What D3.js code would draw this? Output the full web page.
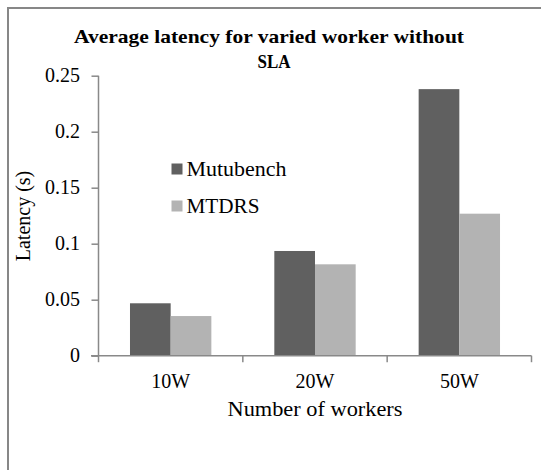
<!DOCTYPE html>
<html><head><meta charset="utf-8">
<script src="https://cdn.jsdelivr.net/npm/d3@7"></script>
<style>html,body{margin:0;padding:0;background:#fff;overflow:hidden}</style>
</head><body><svg id="c" width="541" height="470"></svg>
<script>
const categories = ["10W", "20W", "50W"];
const seriesNames = ["Mutubench", "MTDRS"];
const mutubench = [0.0468, 0.0935, 0.238];
const mtdrs = [0.0354, 0.0816, 0.1268];
const yTicks = [0, 0.05, 0.1, 0.15, 0.2, 0.25];
const yTickLabels = ["0", "0.05", "0.1", "0.15", "0.2", "0.25"];
const colors = ["#606060", "#b3b3b3"];
const axisColor = "#898989";
const FONT = "Times New Roman, Liberation Serif, serif";

const svg = d3.select("#c");
svg.append("rect").attr("width", 541).attr("height", 470).attr("fill", "#fff");
svg.append("rect").attr("x", 8).attr("y", 8).attr("width", 600).attr("height", 600)
  .attr("fill", "none").attr("stroke", "#878787").attr("stroke-width", 2);

const x0 = d3.scaleBand().domain(categories).range([98.5, 531.5]).padding(0);
const x1 = d3.scaleBand().domain(seriesNames).range([0, x0.bandwidth()]).paddingInner(0).paddingOuter(0.774);
const y = d3.scaleLinear().domain([0, 0.25]).range([355.7, 75.7]);

function txt(x, yy, s, opts = {}) {
  const t = svg.append("text")
    .attr("x", x).attr("y", yy)
    .attr("text-anchor", opts.anchor || "middle")
    .attr("font-family", FONT)
    .attr("font-size", opts.size || 20)
    .attr("font-weight", opts.bold ? "bold" : "normal")
    .attr("fill", "#000")
    .text(s);
  if (opts.len) t.attr("textLength", opts.len).attr("lengthAdjust", "spacingAndGlyphs");
  return t;
}

// bars
const data = [mutubench, mtdrs];
seriesNames.forEach((s, si) => {
  svg.append("g").selectAll("rect").data(categories).join("rect")
    .attr("x", c => x0(c) + x1(s))
    .attr("y", (c, i) => y(data[si][i]))
    .attr("width", x1.bandwidth())
    .attr("height", (c, i) => y(0) - y(data[si][i]))
    .attr("fill", colors[si]);
});

// y axis
const yAxis = svg.append("g").attr("transform", "translate(98.5,0)")
  .call(d3.axisLeft(y).tickValues(yTicks).tickSize(7).tickPadding(0)
    .tickFormat((d, i) => yTickLabels[i]));
yAxis.select(".domain").attr("stroke", axisColor).attr("stroke-width", 1.5).attr("d", `M0,${y(0.25)}V${y(0)}`);
yAxis.selectAll(".tick line").attr("stroke", axisColor).attr("stroke-width", 1.5);
yAxis.selectAll(".tick text").remove();
yTicks.forEach((v, i) => txt(80, y(v) + 6.5, yTickLabels[i], { anchor: "end" }));

// x axis
const xAxis = svg.append("g").attr("transform", `translate(0,${y(0)})`)
  .call(d3.axisBottom(x0).tickSize(0).tickFormat(""));
xAxis.select(".domain").attr("stroke", axisColor).attr("stroke-width", 1.5)
  .attr("d", `M91,0H${x0.range()[1]}`);
const xt = [...categories.map(c => x0(c)), x0.range()[1]];
xAxis.selectAll(".xt").data(xt).join("line").attr("class", "xt")
  .attr("x1", d => d).attr("x2", d => d).attr("y1", 0).attr("y2", 6.5)
  .attr("stroke", axisColor).attr("stroke-width", 1.5);
categories.forEach(c => txt(x0(c) + x0.bandwidth() / 2, 388, c));

// titles
txt(269, 43, "Average latency for varied worker without", { bold: true, size: 19, len: 390 });
txt(274, 68, "SLA", { bold: true, size: 19, len: 33 });
txt(315, 416, "Number of workers", { len: 175 });
svg.append("text")
  .attr("transform", "translate(30,216) rotate(-90)")
  .attr("text-anchor", "middle").attr("font-family", FONT).attr("font-size", 20)
  .text("Latency (s)");

// legend
const legY = [163.5, 200.5];
const legLen = [100, 73];
seriesNames.forEach((s, i) => {
  svg.append("rect").attr("x", 171.5).attr("y", legY[i]).attr("width", 11).attr("height", 11).attr("fill", colors[i]);
  txt(186.5, legY[i] + 12.8, s, { anchor: "start", len: legLen[i] });
});
</script></body></html>
